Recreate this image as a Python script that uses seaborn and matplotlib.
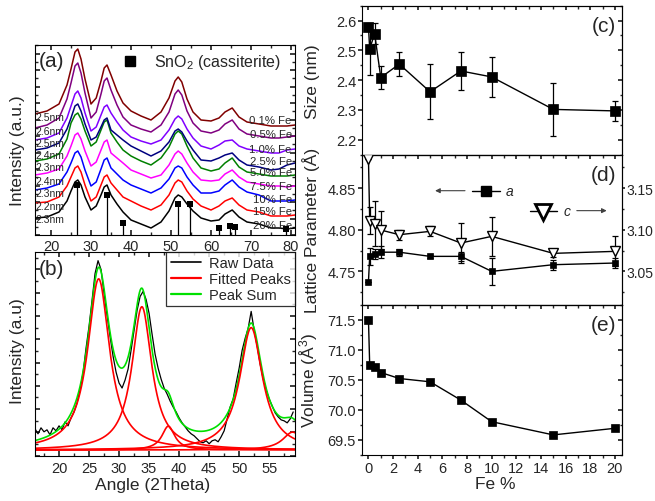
import numpy as np
import pandas as pd
import matplotlib
matplotlib.use("Agg")
import matplotlib.pyplot as plt
from matplotlib.lines import Line2D
from matplotlib.ticker import MultipleLocator, FormatStrFormatter, NullFormatter
import seaborn as sns

# ---------------- (a) stacked XRD patterns ----------------
angle_a = [16, 19, 22, 24, 25, 26, 26.7, 27.5, 28.5, 30, 31.3, 32.5, 33.3, 34, 35,
           36.5, 38, 40, 42.5, 45, 47.5, 49.5, 51, 51.8, 52.7, 54, 55.5, 57.5, 60,
           62, 63.5, 65.3, 67, 69, 72, 75, 77, 79, 81]

fe_labels = ["0.1% Fe", "0.5% Fe", "1.0% Fe", "2.5% Fe", "5.0% Fe",
             "7.5% Fe", "10% Fe", "15% Fe", "20% Fe"]
size_labels = ["2.5nm", "2.6nm", "2.5nm", "2.4nm", "2.3nm",
               "2.4nm", "2.3nm", "2.2nm", "2.3nm"]

xrd_01 = [121, 124, 131, 150, 166, 183, 186, 176, 156, 131,
          137, 154, 167, 170, 160, 144, 132, 124, 119, 115,
          123, 137, 154, 158, 153, 136, 123, 115, 114, 117,
          123, 127, 118, 113, 111, 109, 109, 109, 110]
xrd_05 = [107, 110, 117, 136, 152, 169, 172, 162, 142, 117,
          123, 141, 154, 157, 145, 130, 118, 110, 106, 103,
          110, 123, 141, 145, 140, 124, 112, 104, 102, 105,
          111, 115, 106, 101, 99, 97, 97, 98, 99]
xrd_10 = [95, 97, 102, 117, 129, 141, 144, 137, 122, 104,
          108, 120, 128, 130, 122, 113, 105, 98, 94, 91,
          95, 105, 116, 119, 116, 106, 97, 89, 86, 90,
          94, 95, 89, 86, 84, 82, 82, 85, 86]
xrd_25 = [85, 87, 92, 106, 117, 129, 131, 124, 111, 95,
          98, 108, 115, 117, 105, 100, 95, 89, 84, 79,
          84, 93, 104, 106, 103, 94, 85, 75, 74, 77,
          80, 82, 75, 70, 68, 65, 66, 70, 72]
xrd_50 = [74, 76, 81, 96, 112, 120, 122, 116, 104, 89,
          93, 105, 113, 115, 102, 93, 85, 79, 74, 70,
          77, 88, 101, 104, 101, 89, 77, 67, 64, 66,
          72, 77, 68, 63, 61, 59, 59, 59, 60]
xrd_75 = [60, 62, 66, 79, 89, 100, 102, 96, 84, 69,
          73, 85, 93, 95, 82, 77, 72, 65, 61, 57,
          60, 70, 81, 84, 81, 72, 63, 55, 54, 55,
          61, 65, 58, 53, 51, 49, 49, 48, 49]
xrd_100 = [45, 47, 51, 63, 72, 82, 84, 78, 65, 49,
           53, 66, 75, 77, 67, 61, 55, 50, 46, 42,
           47, 56, 67, 69, 67, 58, 50, 42, 42, 44,
           50, 55, 48, 43, 40, 34, 34, 34, 35]
xrd_150 = [32, 33, 38, 49, 58, 67, 69, 63, 50, 34,
           38, 50, 58, 60, 52, 45, 38, 34, 29, 25,
           30, 40, 52, 55, 53, 44, 36, 29, 25, 29,
           34, 37, 30, 25, 23, 19, 19, 19, 20]
xrd_200 = [17, 18, 23, 34, 44, 53, 55, 50, 38, 25,
           29, 40, 48, 50, 40, 31, 23, 15, 11, 7,
           13, 24, 37, 40, 38, 31, 24, 17, 14, 15,
           21, 25, 18, 13, 11, 7, 7, 6, 7]

# SnO2 cassiterite reference reflections
ref_angle = [26.6, 33.9, 37.95, 51.8, 54.75, 61.9, 64.7, 65.9, 78.7]
ref_height = [50, 40, 12, 31, 31, 7, 8.7, 7.7, 6]

# ---------------- (b) peak fit of one pattern ----------------
raw_intensity = [27, 22, 28, 24, 26, 21, 28, 25, 30, 26,
                 34, 30, 38, 44, 53, 66, 83, 108, 130, 156,
                 183, 196, 187, 163, 141, 120, 100, 84, 73, 68,
                 76, 87, 106, 126, 146, 160, 165, 157, 143, 122,
                 102, 88, 77, 68, 62, 55, 49, 44, 38, 33,
                 29, 25, 22, 20, 17, 14, 13, 15, 12, 15,
                 16, 14, 19, 25, 37, 49, 57, 73, 88, 106,
                 118, 128, 145, 126, 110, 92, 77, 66, 57, 50,
                 43, 39, 36, 35, 33, 37, 44]
raw_angle = np.arange(16, 59.01, 0.5)

peak_center = [26.6, 33.8, 38.2, 52.0, 58.9]
peak_height = [172, 144, 24, 123, 18]
peak_hwhm = [2.2, 2.0, 1.3, 2.3, 2.0]
fit_baseline = 5.7

# ---------------- (c)-(e) parameters vs Fe content ----------------
fe = [0, 0.1, 0.5, 1.0, 2.5, 5.0, 7.5, 10, 15, 20]
size_nm = [2.578, 2.505, 2.556, 2.409, 2.454, 2.361, 2.431, 2.411, 2.302, 2.297]
size_err = [0.013, 0.087, 0.035, 0.038, 0.040, 0.092, 0.063, 0.066, 0.088, 0.033]
lat_a = [4.7376, 4.768, 4.771, 4.773, 4.773, 4.768, 4.768, 4.750, 4.758, 4.760]
lat_a_err = [0.0, 0.010, 0.006, 0.007, 0.004, 0.002, 0.005, 0.016, 0.006, 0.006]
lat_c = [3.185, 3.111, 3.107, 3.0996, 3.094, 3.098, 3.084, 3.092, 3.0716, 3.074]
lat_c_err = [0.0, 0.016, 0.027, 0.023, 0.006, 0.006, 0.024, 0.023, 0.004, 0.018]
volume = [71.50, 70.745, 70.72, 70.62, 70.52, 70.465, 70.16, 69.80, 69.58, 69.69]

# ---------------- styling ----------------
sns.set_theme(style="ticks")
plt.rcParams["font.family"] = ["Liberation Sans", "DejaVu Sans"]
plt.rcParams["mathtext.fontset"] = "custom"
plt.rcParams["mathtext.rm"] = "Liberation Sans"
plt.rcParams["mathtext.it"] = "Liberation Sans:italic"
plt.rcParams["axes.edgecolor"] = "black"
plt.rcParams["axes.linewidth"] = 0.8

W, H = 655, 502
fig = plt.figure(figsize=(W / 100, H / 100), dpi=100)


def rect(x0, y0, x1, y1):
    return [x0 / W, 1 - y1 / H, (x1 - x0) / W, (y1 - y0) / H]


ax_a = fig.add_axes(rect(35, 46, 295, 236))
ax_b = fig.add_axes(rect(35, 253, 295, 456.7))
ax_c = fig.add_axes(rect(362.3, 6.7, 622.3, 155.7))
ax_d = fig.add_axes(rect(362.3, 155.7, 622.3, 305.7))
ax_e = fig.add_axes(rect(362.3, 305.7, 622.3, 455.7))

LABEL_FS = 12.5
LETTER_FS = 15
TICK_FS = 10.5

# ---------------- panel (a) ----------------
colors_a = ["#800000", "#800080", "#8000FF", "#000080", "#008000",
            "#FF00FF", "#0000FF", "#FF0000", "#000000"]
series_a = [xrd_01, xrd_05, xrd_10, xrd_25, xrd_50, xrd_75, xrd_100, xrd_150, xrd_200]
df_a = pd.DataFrame({
    "angle": np.tile(angle_a, len(series_a)),
    "intensity": np.concatenate(series_a),
    "sample": np.repeat(fe_labels, len(angle_a)),
})
sns.lineplot(data=df_a, x="angle", y="intensity", hue="sample",
             hue_order=fe_labels[::-1], palette=dict(zip(fe_labels, colors_a)),
             estimator=None, legend=False, lw=1.1, ax=ax_a)
ax_a.vlines(ref_angle, 0, ref_height, color="black", lw=0.9, zorder=3)
sns.scatterplot(x=ref_angle, y=ref_height, marker="s", color="black", s=20,
                edgecolor="black", linewidth=0, zorder=4, ax=ax_a)

ax_a.set_xlim(16, 81)
ax_a.set_ylim(0, 190)
ax_a.xaxis.set_major_locator(MultipleLocator(10))
ax_a.xaxis.set_minor_locator(MultipleLocator(5))
ax_a.yaxis.set_major_locator(MultipleLocator(16.5))
ax_a.yaxis.set_minor_locator(MultipleLocator(8.25))
ax_a.yaxis.set_major_formatter(NullFormatter())
ax_a.tick_params(which="both", direction="in", top=True, right=True,
                 labelsize=TICK_FS, pad=3)
ax_a.tick_params(which="major", length=3.5)
ax_a.tick_params(which="minor", length=2)
ax_a.set_xlabel("")
ax_a.set_ylabel("Intensity (a.u.)", fontsize=LABEL_FS)
ax_a.yaxis.set_label_coords(-0.04, 0.45)
ax_a.text(0.015, 0.97, "(a)", transform=ax_a.transAxes, fontsize=LETTER_FS,
          va="top", ha="left")
ax_a.plot([39.7], [174], "s", color="black", ms=7)
ax_a.text(45.8, 174, "SnO$_2$ (cassiterite)", fontsize=11.5, va="center", ha="left")

left_label_y = [117.7, 104.3, 92, 80, 67.7, 54.3, 41.7, 28.7, 16]
right_label_y = [115.3, 101.3, 86, 73.7, 62.7, 48.7, 36, 23.7, 10.3]
for txt, yy in zip(size_labels, left_label_y):
    ax_a.text(16.1, yy, txt, fontsize=7.5, va="center", ha="left")
for txt, yy in zip(fe_labels, right_label_y):
    ax_a.text(80.2, yy, txt, fontsize=8.2, va="center", ha="right")

# ---------------- panel (b) ----------------
x_fit = np.linspace(16, 59.3, 700)
components = [fit_baseline + h / (1 + ((x_fit - c) / w) ** 2)
              for c, h, w in zip(peak_center, peak_height, peak_hwhm)]
peak_sum = fit_baseline + sum(comp - fit_baseline for comp in components)

sns.lineplot(x=raw_angle, y=raw_intensity, color="black", lw=0.9, ax=ax_b)
sns.lineplot(x=x_fit, y=peak_sum, color="#00E000", lw=1.2, ax=ax_b)
for comp in components:
    sns.lineplot(x=x_fit, y=comp, color="#FF0000", lw=1.2, ax=ax_b)

ax_b.set_xlim(16, 59.3)
ax_b.set_ylim(0, 204.7)
ax_b.xaxis.set_major_locator(MultipleLocator(5))
ax_b.xaxis.set_minor_locator(MultipleLocator(2.5))
ax_b.yaxis.set_major_locator(MultipleLocator(23.4))
ax_b.yaxis.set_minor_locator(MultipleLocator(11.7))
ax_b.yaxis.set_major_formatter(NullFormatter())
ax_b.tick_params(which="both", direction="in", top=True, right=True,
                 labelsize=TICK_FS, pad=3.5)
ax_b.tick_params(which="major", length=3.5)
ax_b.tick_params(which="minor", length=2)
ax_b.set_xlabel("Angle (2Theta)", fontsize=LABEL_FS)
ax_b.xaxis.set_label_coords(0.454, -0.105)
ax_b.set_ylabel("Intensity (a.u)", fontsize=LABEL_FS)
ax_b.yaxis.set_label_coords(-0.04, 0.52)
ax_b.text(0.015, 0.965, "(b)", transform=ax_b.transAxes, fontsize=LETTER_FS,
          va="top", ha="left")
handles = [Line2D([], [], color="black", lw=1.2),
           Line2D([], [], color="#FF0000", lw=1.6),
           Line2D([], [], color="#00E000", lw=1.6)]
leg = ax_b.legend(handles, ["Raw Data", "Fitted Peaks", "Peak Sum"],
                  loc="upper right", fontsize=10.5, frameon=True, fancybox=False,
                  borderaxespad=0, handlelength=2.1, handletextpad=0.5,
                  labelspacing=0.12, borderpad=0.3)
leg.get_frame().set_edgecolor("black")
leg.get_frame().set_linewidth(0.9)

# ---------------- panels (c)-(e) ----------------
def style_right(ax, ymaj, ymin, fmt, show_x, right_ticks=True):
    ax.set_xlim(-0.5, 20.6)
    ax.xaxis.set_major_locator(MultipleLocator(2))
    ax.xaxis.set_minor_locator(MultipleLocator(1))
    ax.yaxis.set_major_locator(MultipleLocator(ymaj))
    ax.yaxis.set_minor_locator(MultipleLocator(ymin))
    ax.yaxis.set_major_formatter(FormatStrFormatter(fmt))
    ax.tick_params(which="both", direction="out", labelsize=TICK_FS, pad=1.5)
    ax.tick_params(which="major", length=3)
    ax.tick_params(which="minor", length=1.8)
    if not show_x:
        ax.tick_params(axis="x", labelbottom=False)
    top = ax.secondary_xaxis("top")
    top.xaxis.set_major_locator(MultipleLocator(2))
    top.xaxis.set_minor_locator(MultipleLocator(1))
    top.tick_params(which="both", direction="in", labeltop=False)
    top.tick_params(which="major", length=3)
    top.tick_params(which="minor", length=1.8)
    if right_ticks:
        right = ax.secondary_yaxis("right")
        right.yaxis.set_major_locator(MultipleLocator(ymaj))
        right.yaxis.set_minor_locator(MultipleLocator(ymin))
        right.tick_params(which="both", direction="in", labelright=False)
        right.tick_params(which="major", length=3)
        right.tick_params(which="minor", length=1.8)


# (c) crystallite size
ax_c.errorbar(fe, size_nm, yerr=size_err, fmt="none", ecolor="black",
              elinewidth=0.9, capsize=2.5, capthick=0.9, zorder=2)
sns.lineplot(x=fe, y=size_nm, color="black", lw=1, marker="s", markersize=6.5,
             markeredgecolor="black", markeredgewidth=0.5, ax=ax_c, zorder=3)
ax_c.set_ylim(2.15, 2.65)
style_right(ax_c, 0.1, 0.05, "%.1f", False)
ax_c.set_ylabel("Size (nm)", fontsize=LABEL_FS)
ax_c.yaxis.set_label_coords(-0.163, 0.5)
ax_c.text(0.975, 0.93, "(c)", transform=ax_c.transAxes, fontsize=LETTER_FS,
          va="top", ha="right")

# (d) lattice parameters a (left) and c (right)
ax_d2 = ax_d.twinx()
ax_d.errorbar(fe, lat_a, yerr=lat_a_err, fmt="none", ecolor="black",
              elinewidth=0.9, capsize=2.5, capthick=0.9, zorder=2)
sns.lineplot(x=fe, y=lat_a, color="black", lw=1, marker="s", markersize=5,
             markeredgecolor="black", markeredgewidth=0.5, ax=ax_d, zorder=3)
ax_d2.errorbar(fe, lat_c, yerr=lat_c_err, fmt="none", ecolor="black",
               elinewidth=0.9, capsize=2.5, capthick=0.9, zorder=2)
sns.lineplot(x=fe, y=lat_c, color="black", lw=1, marker="v", markersize=6.5,
             markerfacecolor="white", markeredgecolor="black",
             markeredgewidth=1, ax=ax_d2, zorder=3)
ax_d.set_ylim(4.71, 4.89)
ax_d2.set_ylim(3.01, 3.19)
style_right(ax_d, 0.05, 0.025, "%.2f", False, right_ticks=False)
ax_d2.yaxis.set_major_locator(MultipleLocator(0.05))
ax_d2.yaxis.set_minor_locator(MultipleLocator(0.025))
ax_d2.yaxis.set_major_formatter(FormatStrFormatter("%.2f"))
ax_d2.tick_params(which="both", direction="out", labelsize=10, pad=0.8)
ax_d2.tick_params(which="major", length=2.2)
ax_d2.tick_params(which="minor", length=1.4)
ax_d2.set_ylabel("")
ax_d2.spines[:].set_color("black")
ax_d.set_ylabel("Lattice Parameter (Å)", fontsize=LABEL_FS)
ax_d.yaxis.set_label_coords(-0.163, 0.5)
ax_d.text(0.975, 0.93, "(d)", transform=ax_d.transAxes, fontsize=LETTER_FS,
          va="top", ha="right")

# key symbols for the two series
ax_d.annotate("", xy=(0.28, 0.76), xytext=(0.395, 0.76), xycoords="axes fraction",
              arrowprops=dict(arrowstyle="-|>", color="0.25", lw=0.8,
                              mutation_scale=7, shrinkA=0, shrinkB=0))
ax_d.plot([0.421, 0.53], [0.76, 0.76], color="black", lw=1, transform=ax_d.transAxes)
ax_d.plot([0.475], [0.76], "s", color="black", ms=7.5, transform=ax_d.transAxes)
ax_d.text(0.55, 0.76, "a", style="italic", fontsize=10, va="center", ha="left",
          transform=ax_d.transAxes)
ax_d.plot([0.645, 0.748], [0.627, 0.627], color="black", lw=1, transform=ax_d.transAxes)
ax_d.plot([0.696], [0.62], "v", ms=12, mfc="white", mec="black", mew=2,
          transform=ax_d.transAxes)
ax_d.text(0.775, 0.627, "c", style="italic", fontsize=10, va="center", ha="left",
          transform=ax_d.transAxes)
ax_d.annotate("", xy=(0.94, 0.627), xytext=(0.825, 0.627), xycoords="axes fraction",
              arrowprops=dict(arrowstyle="-|>", color="0.25", lw=0.8,
                              mutation_scale=7, shrinkA=0, shrinkB=0))

# (e) cell volume
sns.lineplot(x=fe, y=volume, color="black", lw=1, marker="s", markersize=5.5,
             markeredgecolor="black", markeredgewidth=0.5, ax=ax_e)
ax_e.set_ylim(69.25, 71.75)
style_right(ax_e, 0.5, 0.25, "%.1f", True)
ax_e.set_ylabel("Volume (Å$^3$)", fontsize=LABEL_FS)
ax_e.yaxis.set_label_coords(-0.163, 0.5)
ax_e.set_xlabel("Fe %", fontsize=LABEL_FS)
ax_e.xaxis.set_label_coords(0.51, -0.145)
ax_e.text(0.975, 0.93, "(e)", transform=ax_e.transAxes, fontsize=LETTER_FS,
          va="top", ha="right")

fig.savefig("out.png", dpi=100)
